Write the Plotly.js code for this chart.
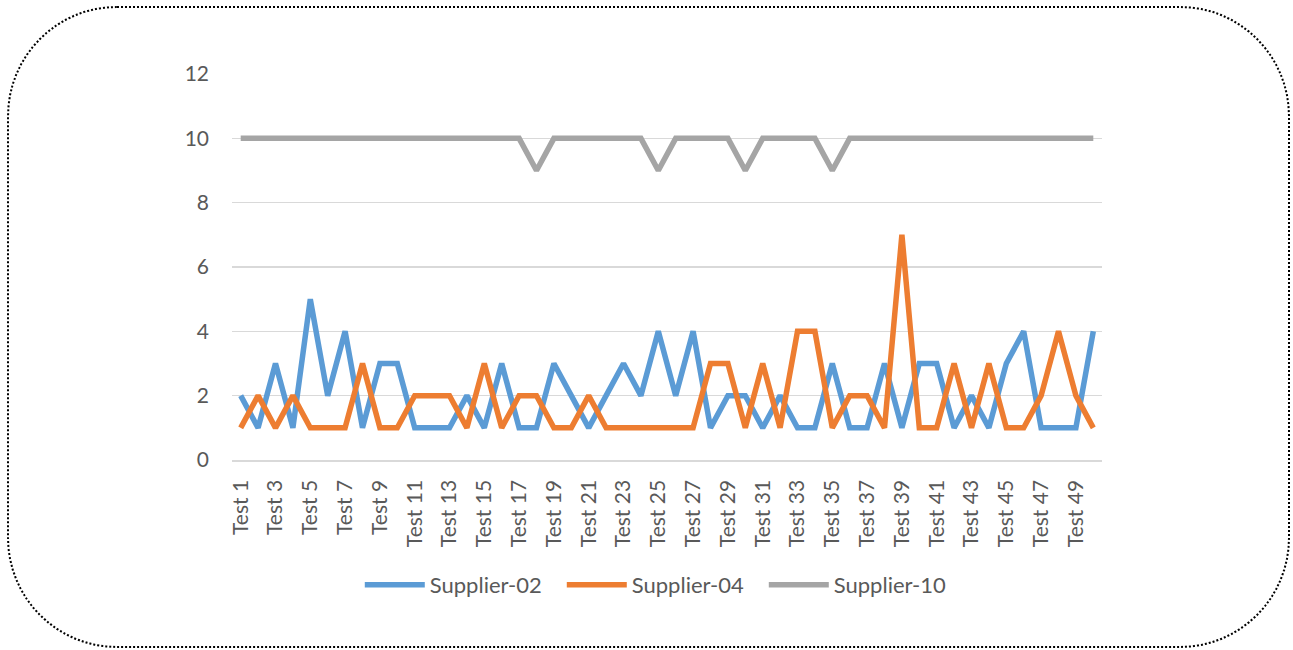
<!DOCTYPE html>
<html>
<head>
<meta charset="utf-8">
<script src="https://cdn.plot.ly/plotly-3.0.1.min.js"></script>
<style>
  html, body { margin: 0; padding: 0; background: #fff; }
  #wrap { position: relative; width: 1293px; height: 650px; }
  #chart { position: absolute; left: 0; top: 0; width: 1293px; height: 650px; }
  #frame { position: absolute; left: 7px; top: 6px; width: 1279px; height: 638px;
           border: 2px dotted #000; border-radius: 110px; pointer-events: none; }
</style>
</head>
<body>
<div id="wrap">
  <div id="chart"></div>
  <div id="frame"></div>
</div>
<script>
const tests = [];
for (let i = 1; i <= 50; i++) tests.push('Test ' + i);

const supplier02 = [2,1,3,1,5,2,4,1,3,3, 1,1,1,2,1,3,1,1,3,2, 1,2,3,2,4,2,4,1,2,2, 1,2,1,1,3,1,1,3,1,3, 3,1,2,1,3,4,1,1,1,4];
const supplier04 = [1,2,1,2,1,1,1,3,1,1, 2,2,2,1,3,1,2,2,1,1, 2,1,1,1,1,1,1,3,3,1, 3,1,4,4,1,2,2,1,7,1, 1,3,1,3,1,1,2,4,2,1];
const supplier10 = [10,10,10,10,10,10,10,10,10,10, 10,10,10,10,10,10,10,9,10,10, 10,10,10,10,9,10,10,10,10,9, 10,10,10,10,9,10,10,10,10,10, 10,10,10,10,10,10,10,10,10,10];

const seriesNames = ['Supplier-02', 'Supplier-04', 'Supplier-10'];
const seriesColors = ['#5B9BD5', '#ED7D31', '#A5A5A5'];
const seriesValues = [supplier02, supplier04, supplier10];

const traces = seriesValues.map((vals, k) => ({
  type: 'scatter', mode: 'lines', x: tests, y: vals, name: seriesNames[k],
  line: { color: seriesColors[k], width: 5.5, shape: 'linear' },
  hoverinfo: 'skip'
}));

const fontFam = 'Lato, "Open Sans", sans-serif';
const layout = {
  width: 1293, height: 650,
  margin: { l: 232, r: 191, t: 74, b: 190, pad: 0 },
  paper_bgcolor: 'rgba(0,0,0,0)', plot_bgcolor: 'rgba(0,0,0,0)',
  font: { family: fontFam, size: 21, color: '#595959' },
  showlegend: true,
  legend: {
    orientation: 'h', xref: 'container', yref: 'container',
    x: 0.5126, xanchor: 'center', y: 0.1, yanchor: 'middle',
    font: { family: fontFam, size: 22, color: '#595959' },
    itemwidth: 60, entrywidth: 127, entrywidthmode: 'pixels',
    tracegroupgap: 0, bgcolor: 'rgba(0,0,0,0)'
  },
  xaxis: {
    type: 'category', range: [-0.5, 49.5], dtick: 2, tick0: 0,
    tickangle: -90, showgrid: false, zeroline: false,
    showline: true, linecolor: '#D9D9D9', linewidth: 1.5,
    ticks: '', ticklabelstandoff: 10,
    tickfont: { family: fontFam, size: 21, color: '#595959' }
  },
  yaxis: {
    range: [0, 12], dtick: 2, tick0: 0, showgrid: true, gridcolor: '#D9D9D9', gridwidth: 1.5,
    zeroline: false, showline: false, ticks: '', ticklabelstandoff: 22,
    tickfont: { family: fontFam, size: 21, color: '#595959' }
  },
  hovermode: false
};

Plotly.newPlot('chart', traces, layout, { staticPlot: true, displayModeBar: false });
</script>
</body>
</html>
